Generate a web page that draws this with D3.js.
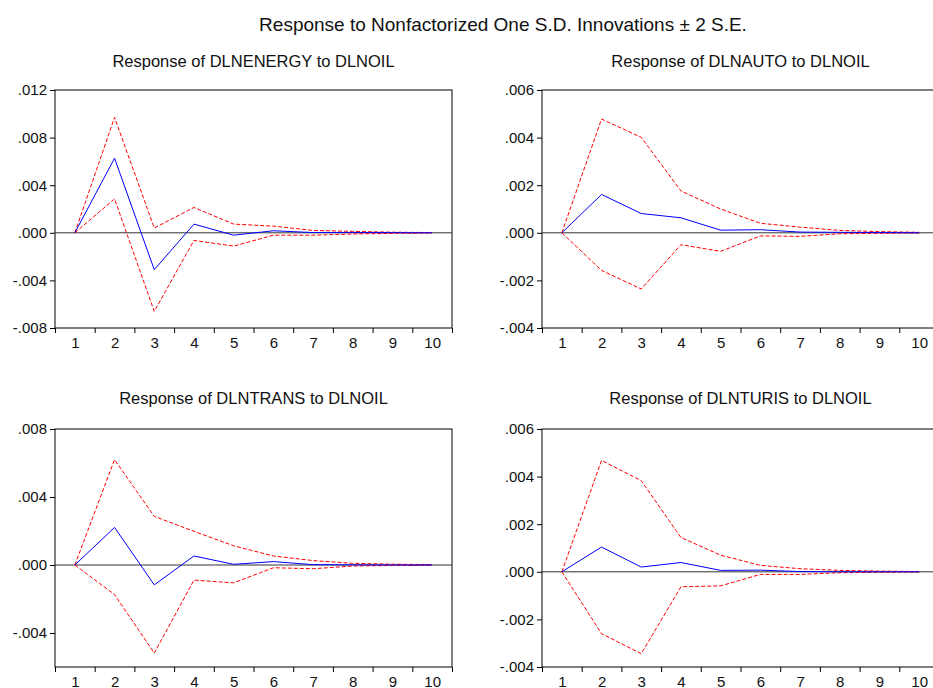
<!DOCTYPE html>
<html>
<head>
<meta charset="utf-8">
<script src="https://cdn.jsdelivr.net/npm/d3@7"></script>
<style>
  body { margin: 0; background: #fff; }
  svg { display: block; font-family: "Liberation Sans", Arial, sans-serif; }
  .tick text { font-size: 15px; fill: #111; }
</style>
</head>
<body>
<div id="chart"></div>
<script>
// periods 1..10
const periods = [1, 2, 3, 4, 5, 6, 7, 8, 9, 10];

// DLNENERGY to DLNOIL
const energyResp  = [0, 0.00627, -0.0031, 0.00073, -0.0002, 0.00017, 0.00002, 0.00003, 0.00001, 0];
const energyUpper = [0, 0.0097, 0.0004, 0.00213, 0.00073, 0.00056, 0.0002, 0.00012, 0.00005, 0.00002];
const energyLower = [0, 0.00285, -0.0066, -0.00064, -0.00112, -0.0002, -0.0002, -0.0001, -0.00005, -0.00002];

// DLNAUTO to DLNOIL
const autoResp  = [0, 0.00161, 0.00081, 0.00063, 0.00011, 0.00013, 0.00003, 0.00002, 0.00001, 0];
const autoUpper = [0, 0.00478, 0.00401, 0.00176, 0.001, 0.0004, 0.00024, 0.0001, 0.00005, 0.00002];
const autoLower = [0, -0.00158, -0.00236, -0.0005, -0.00078, -0.00013, -0.00015, -0.00004, -0.00002, -0.00001];

// DLNTRANS to DLNOIL
const transResp  = [0, 0.00221, -0.00117, 0.00053, 0.00004, 0.0002, 0.00002, 0.00001, 0, 0];
const transUpper = [0, 0.0062, 0.00286, 0.00198, 0.00113, 0.00053, 0.00026, 0.0001, 0.00005, 0.00002];
const transLower = [0, -0.00174, -0.00518, -0.00089, -0.00105, -0.00016, -0.00022, -0.00006, -0.00003, -0.00001];

// DLNTURIS to DLNOIL
const turisResp  = [0, 0.00104, 0.0002, 0.00039, 0.00006, 0.00007, 0.00001, 0, 0, 0];
const turisUpper = [0, 0.00468, 0.00383, 0.00144, 0.0007, 0.00027, 0.00013, 0.00006, 0.00003, 0.00001];
const turisLower = [0, -0.0026, -0.00344, -0.00063, -0.00059, -0.00011, -0.00011, -0.00004, -0.00002, -0.00001];

const panelTitles = [
  'Response of DLNENERGY to DLNOIL',
  'Response of DLNAUTO to DLNOIL',
  'Response of DLNTRANS to DLNOIL',
  'Response of DLNTURIS to DLNOIL'
];
const yDomains = [[-0.008, 0.012], [-0.004, 0.006], [-0.006, 0.008], [-0.004, 0.006]];
const yTicks = [
  [-0.008, -0.004, 0, 0.004, 0.008, 0.012],
  [-0.004, -0.002, 0, 0.002, 0.004, 0.006],
  [-0.004, 0, 0.004, 0.008],
  [-0.004, -0.002, 0, 0.002, 0.004, 0.006]
];
const series = [
  [energyResp, energyUpper, energyLower],
  [autoResp, autoUpper, autoLower],
  [transResp, transUpper, transLower],
  [turisResp, turisUpper, turisLower]
];

const width = 933, height = 688;
// panel frames: left, top, title baseline offset
const frames = [
  {x: 55, y: 90, ty: -23.5}, {x: 542, y: 90, ty: -23.5},
  {x: 55, y: 429, ty: -25.5}, {x: 542, y: 429, ty: -25.5}
];
const pw = 397, ph = 238;

const svg = d3.select('#chart').append('svg')
  .attr('width', width)
  .attr('height', height);

svg.append('text')
  .attr('x', 503)
  .attr('y', 31)
  .attr('text-anchor', 'middle')
  .style('font-size', '19px')
  .attr('fill', '#111')
  .text('Response to Nonfactorized One S.D. Innovations \u00b1 2 S.E.');

const fmtTick = v => {
  const s = d3.format('.3f')(Math.abs(v)).replace(/^0/, '');
  return v < -1e-12 ? '-' + s : s;
};

frames.forEach((f, i) => {
  const g = svg.append('g').attr('transform', `translate(${f.x},${f.y})`);

  const x = d3.scaleLinear().domain([0.5, 10.5]).range([0, pw]);
  const y = d3.scaleLinear().domain(yDomains[i]).range([ph, 0]);

  // subplot title
  g.append('text')
    .attr('x', pw / 2)
    .attr('y', f.ty)
    .attr('text-anchor', 'middle')
    .style('font-size', '16.5px')
    .attr('fill', '#111')
    .text(panelTitles[i]);

  // frame
  g.append('rect')
    .attr('width', pw)
    .attr('height', ph)
    .attr('fill', 'none')
    .attr('stroke', '#000')
    .attr('stroke-width', 1);

  // y axis
  const yAxis = g.append('g')
    .call(d3.axisLeft(y).tickValues(yTicks[i]).tickSize(5).tickFormat(fmtTick).tickPadding(3));
  yAxis.select('.domain').remove();

  // x tick marks on band edges
  const xMarks = g.append('g')
    .attr('transform', `translate(0,${ph})`)
    .call(d3.axisBottom(x).tickValues(d3.range(0.5, 11, 1)).tickSize(5).tickFormat(''));
  xMarks.select('.domain').remove();

  // x labels at period centres
  const xLabels = g.append('g')
    .attr('transform', `translate(0,${ph})`)
    .call(d3.axisBottom(x).tickValues(periods).tickSize(0).tickPadding(9).tickFormat(d3.format('d')));
  xLabels.select('.domain').remove();

  // zero line
  g.append('line')
    .attr('x1', 0).attr('x2', pw)
    .attr('y1', y(0)).attr('y2', y(0))
    .attr('stroke', '#333')
    .attr('stroke-width', 1);

  const line = d3.line()
    .x((d, k) => x(periods[k]))
    .y(d => y(d));

  const [resp, upper, lower] = series[i];
  [upper, lower].forEach(band => {
    g.append('path')
      .datum(band)
      .attr('d', line)
      .attr('fill', 'none')
      .attr('stroke', '#ff0000')
      .attr('stroke-width', 1)
      .attr('stroke-dasharray', '4,2');
  });
  g.append('path')
    .datum(resp)
    .attr('d', line)
    .attr('fill', 'none')
    .attr('stroke', '#0000ff')
    .attr('stroke-width', 1);
});
</script>
</body>
</html>
